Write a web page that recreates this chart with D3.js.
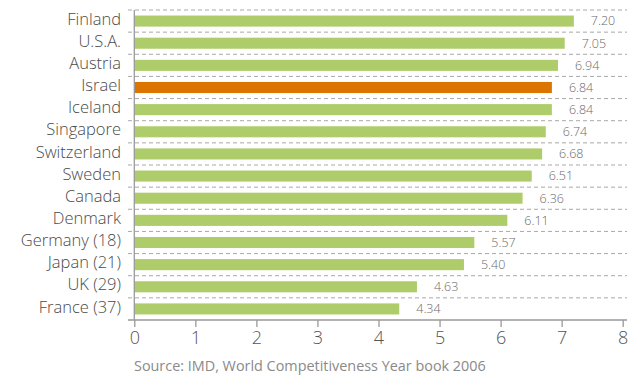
<!DOCTYPE html>
<html>
<head>
<meta charset="utf-8">
<script src="https://cdn.jsdelivr.net/npm/d3@7"></script>
<style>
  html, body { margin: 0; padding: 0; background: #ffffff; }
  svg { display: block; font-family: "Open Sans", "DejaVu Sans", sans-serif; }
</style>
</head>
<body>
<svg id="chart" width="641" height="377"></svg>
<script>
// Countries and their scores
const countries = ["Finland", "U.S.A.", "Austria", "Israel", "Iceland", "Singapore",
  "Switzerland", "Sweden", "Canada", "Denmark", "Germany (18)", "Japan (21)",
  "UK (29)", "France (37)"];
const scores = [7.20, 7.05, 6.94, 6.84, 6.84, 6.74, 6.68, 6.51, 6.36, 6.11, 5.57, 5.40, 4.63, 4.34];
const highlighted = "Israel";
const xTicks = [0, 1, 2, 3, 4, 5, 6, 7, 8];
const sourceNote = "Source: IMD, World Competitiveness Year book 2006";

const rows = countries.map((c, i) => ({ country: c, score: scores[i] }));

const svg = d3.select("#chart");
const plotLeft = 134.3, plotRight = 622.7, plotTop = 10, plotBottom = 320;

const x = d3.scaleLinear().domain([0, 8]).range([plotLeft, plotRight]);
const y = d3.scaleBand().domain(countries).range([plotTop, plotBottom])
  .paddingInner(0.5).paddingOuter(0.25);

const green = "#aecd6a", orange = "#db7500", grid = "#a9a9a9";

// dashed separators between rows
const step = y.step();
const seps = d3.range(countries.length).map(i => plotTop + i * step);
svg.append("g").selectAll("line").data(seps).join("line")
  .attr("x1", 128).attr("x2", 627)
  .attr("y1", d => d).attr("y2", d => d)
  .attr("stroke", grid).attr("stroke-width", 1)
  .attr("stroke-dasharray", "4,3");

// bars
svg.append("g").selectAll("rect").data(rows).join("rect")
  .attr("x", x(0))
  .attr("y", d => y(d.country))
  .attr("width", d => x(d.score) - x(0))
  .attr("height", y.bandwidth())
  .attr("fill", d => d.country === highlighted ? orange : green);

// value labels
svg.append("g").selectAll("text").data(rows).join("text")
  .attr("x", d => x(d.score) + 17)
  .attr("y", d => y(d.country) + y.bandwidth() / 2)
  .attr("dy", "0.35em")
  .attr("font-size", 12.5)
  .attr("font-weight", 300)
  .attr("fill", "#6a6a6a")
  .text(d => d.score.toFixed(2));

// category labels
svg.append("g").selectAll("text").data(rows).join("text")
  .attr("x", 121)
  .attr("y", d => y(d.country) + y.bandwidth() / 2)
  .attr("dy", "0.22em")
  .attr("text-anchor", "end")
  .attr("font-size", 16.5)
  .attr("font-weight", 300)
  .attr("fill", "#4a4a4a")
  .text(d => d.country);

// vertical axis line
svg.append("line")
  .attr("x1", plotLeft).attr("x2", plotLeft).attr("y1", plotTop).attr("y2", plotBottom)
  .attr("stroke", "#999").attr("stroke-width", 1.3);

// bottom axis
const xAxis = d3.axisBottom(x).tickValues(xTicks).tickFormat(d3.format("d"))
  .tickSize(7).tickPadding(4).tickSizeOuter(0);
const gx = svg.append("g").attr("transform", `translate(0,${plotBottom})`).call(xAxis);
gx.select(".domain").remove();
gx.selectAll(".tick line").attr("stroke", "#999").attr("stroke-width", 1.3);
gx.selectAll(".tick text").attr("font-size", 18).attr("font-weight", 300)
  .attr("fill", "#555")
  .attr("font-family", "\"Open Sans\", sans-serif");
svg.append("line")
  .attr("x1", 128).attr("x2", 627).attr("y1", plotBottom).attr("y2", plotBottom)
  .attr("stroke", "#999").attr("stroke-width", 1.3);

// source note
svg.append("text")
  .attr("x", 134).attr("y", 371)
  .attr("font-size", 14.4)
  .attr("fill", "#8a8a8a")
  .text(sourceNote);
</script>
</body>
</html>
